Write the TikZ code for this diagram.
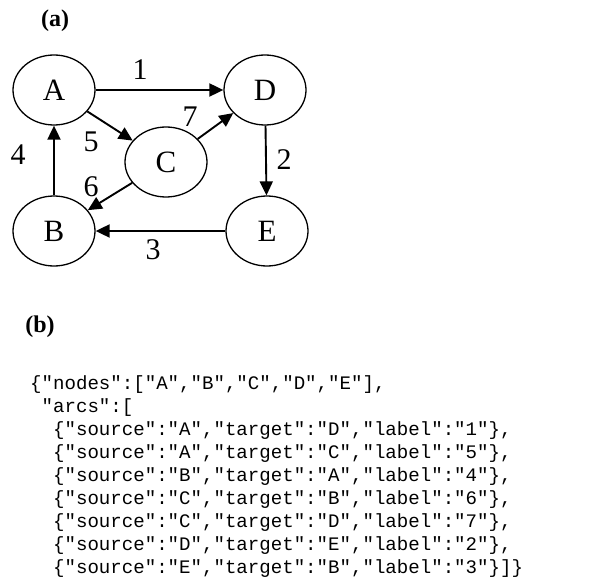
\documentclass[tikz,border=0pt]{standalone}
\usepackage{fontspec}
\setmainfont{Liberation Serif}
\setmonofont{Liberation Mono}
\usetikzlibrary{arrows.meta,positioning,shapes.geometric}

\newcommand\jsind{\hphantom{x}}

\begin{document}
\begin{tikzpicture}[x=1pt,y=-1pt,
    vert/.style={ellipse,draw,line width=1.3pt,minimum width=82pt,minimum height=70pt,
      inner sep=0pt,font=\fontsize{31}{34}\selectfont},
    arc/.style={-{Triangle[length=14pt,width=13pt]},line width=1.9pt},
    lab/.style={font=\fontsize{30}{34}\selectfont},
    panel/.style={font=\fontsize{24}{28}\selectfont\bfseries},
    code/.style={font=\fontsize{19.1}{23}\selectfont\ttfamily,align=left,inner sep=0pt}]
  \useasboundingbox (0,0) rectangle (593,577);
  % (a) the graph
  \node[panel] (pa) at (55,21) {(a)};
  \node[vert] (A) at (54,90) {A};
  \node[vert] (D) at (265,90) {D};
  \node[vert] (C) at (166,162) {C};
  \node[vert] (B) at (54,231) {B};
  \node[vert] (E) at (267,231) {E};
  \draw[arc] (A) -- (D);
  \draw[arc] (A) -- (C);
  \draw[arc] (B) -- (A);
  \draw[arc] (C) -- (B);
  \draw[arc] (C) -- (D);
  \draw[arc] (D) -- (E);
  \draw[arc] (E) -- (B);
  \node[lab] (l1) at (140,70) {1};
  \node[lab] (l5) at (91,142) {5};
  \node[lab] (l4) at (18,155) {4};
  \node[lab] (l6) at (91,187) {6};
  \node[lab] (l7) at (190,117) {7};
  \node[lab] (l2) at (284,160) {2};
  \node[lab] (l3) at (153,250) {3};
  % (b) the same graph as text
  \node[panel] (pb) at (40,327) {(b)};
  \node[code,anchor=north west] (json) at (30,375) {%
\{"nodes":["A","B","C","D","E"],\\
\jsind"arcs":[\\
\jsind\jsind\{"source":"A","target":"D","label":"1"\},\\
\jsind\jsind\{"source":"A","target":"C","label":"5"\},\\
\jsind\jsind\{"source":"B","target":"A","label":"4"\},\\
\jsind\jsind\{"source":"C","target":"B","label":"6"\},\\
\jsind\jsind\{"source":"C","target":"D","label":"7"\},\\
\jsind\jsind\{"source":"D","target":"E","label":"2"\},\\
\jsind\jsind\{"source":"E","target":"B","label":"3"\}]\}};
\end{tikzpicture}
\end{document}
